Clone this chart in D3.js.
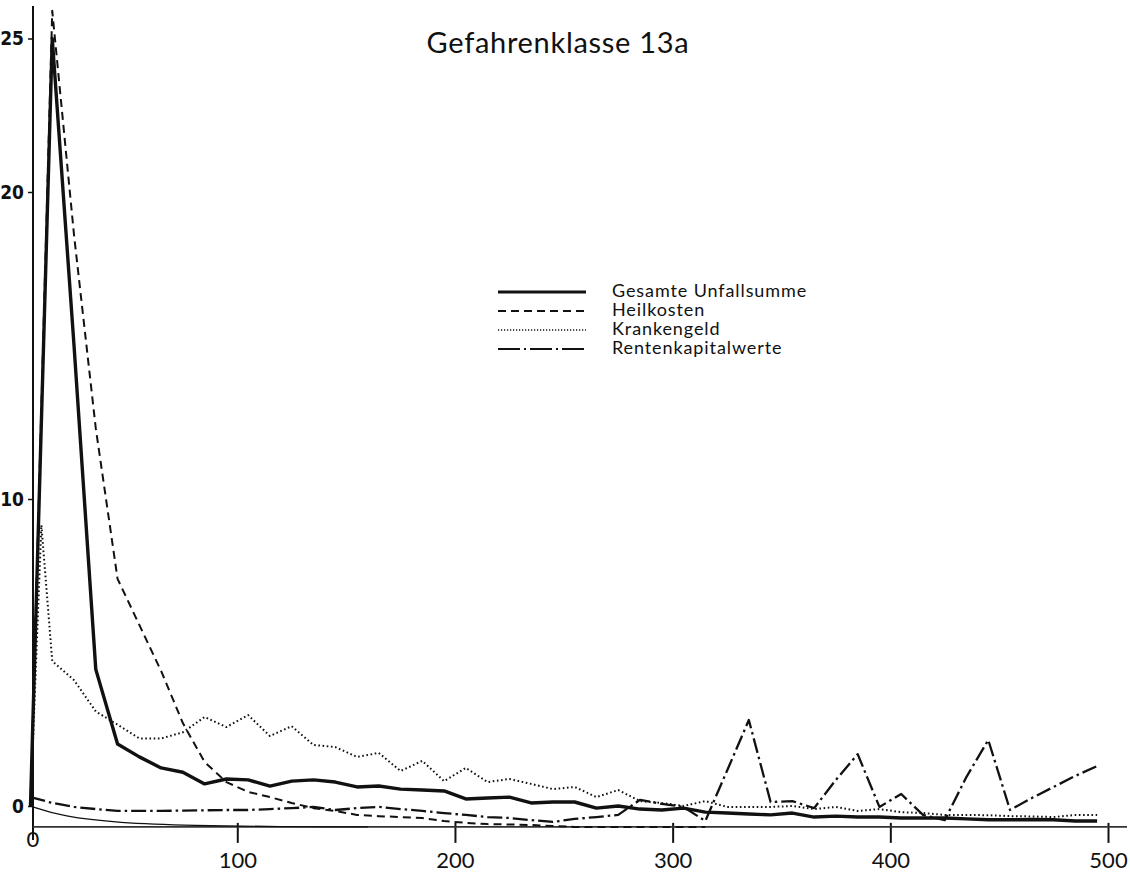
<!DOCTYPE html>
<meta charset="utf-8">
<style>
	body { margin: 0; background: #fff; }
	text { fill: #111; }
	.title { font-family: Lato, "Open Sans", sans-serif; font-size: 29px; letter-spacing: 0.7px; }
	.legend text { font-family: Lato, "Open Sans", sans-serif; font-size: 18px; letter-spacing: 0.9px; }
	.ylab { font-family: "Liberation Sans Narrow", "DejaVu Sans Condensed", sans-serif; font-size: 19px; font-weight: bold; }
	.xlab { font-family: Lato, "Open Sans", sans-serif; font-size: 22px; }
	.line { fill: none; stroke: #111; }
</style>

<svg width="1130" height="875"></svg>
<script src="https://d3js.org/d3.v7.min.js"></script>

<script>
	// class midpoints on the x axis
	var klassen = [5, 15, 25, 35, 45, 55, 65, 75, 85, 95,
	  105, 115, 125, 135, 145, 155, 165, 175, 185, 195,
	  205, 215, 225, 235, 245, 255, 265, 275, 285, 295,
	  305, 315, 325, 335, 345, 355, 365, 375, 385, 395,
	  405, 415, 425, 435, 445, 455, 465, 475, 485, 495];

	var gesamt = [0, 25.0, 15.0, 4.45, 2.02, 1.6, 1.24, 1.1, 0.72, 0.88,
	  0.85, 0.65, 0.81, 0.85, 0.78, 0.62, 0.65, 0.55, 0.52, 0.49,
	  0.23, 0.26, 0.29, 0.1, 0.13, 0.13, -0.07, 0, -0.1, -0.13,
	  -0.07, -0.2, -0.23, -0.26, -0.29, -0.23, -0.36, -0.33, -0.36, -0.36,
	  -0.39, -0.39, -0.39, -0.42, -0.45, -0.45, -0.44, -0.45, -0.49, -0.49];

	// Heilkosten stops at the 315 class
	var heilkosten = [0, 25.9, 18.6, 12.3, 7.4, 5.9, 4.4, 2.7, 1.43, 0.78,
	  0.46, 0.29, 0.1, -0.07, -0.16, -0.29, -0.33, -0.36, -0.39, -0.49,
	  -0.55, -0.59, -0.6, -0.62, -0.65, -0.68, -0.68, -0.68, -0.68, -0.68,
	  -0.68, -0.68];

	var krankengeldX = [5, 10, 15, 25, 35, 45, 55, 65, 75, 85, 95,
	  105, 115, 125, 135, 145, 155, 165, 175, 185, 195,
	  205, 215, 225, 235, 245, 255, 265, 275, 285, 295,
	  305, 315, 325, 335, 345, 355, 365, 375, 385, 395,
	  405, 415, 425, 435, 445, 455, 465, 475, 485, 495];
	var krankengeld = [0, 9.15, 4.72, 4.1, 3.08, 2.65, 2.2, 2.2, 2.4, 2.9, 2.57,
	  2.96, 2.28, 2.6, 1.99, 1.92, 1.6, 1.73, 1.14, 1.47, 0.81,
	  1.24, 0.78, 0.88, 0.72, 0.55, 0.62, 0.29, 0.52, 0.16, 0.1,
	  0, 0.16, -0.03, -0.03, -0.03, 0, -0.1, -0.03, -0.16, -0.1,
	  -0.2, -0.23, -0.29, -0.29, -0.3, -0.33, -0.34, -0.36, -0.29, -0.29];

	var rente = [0.29, 0.1, -0.03, -0.1, -0.16, -0.16, -0.16, -0.15, -0.14, -0.13,
	  -0.13, -0.1, -0.07, -0.03, -0.13, -0.07, -0.03, -0.1, -0.16, -0.23,
	  -0.29, -0.36, -0.39, -0.46, -0.52, -0.42, -0.36, -0.29, 0.2, 0.07,
	  -0.03, -0.49, 1.15, 2.8, 0.13, 0.16, -0.07, 0.85, 1.69, -0.03,
	  0.39, -0.29, -0.46, 0.95, 2.15, -0.13, 0.26, 0.62, 0.98, 1.3];

	var yTicks = [0, 10, 20, 25];
	var xTicks = [100, 200, 300, 400, 500];
	var legendLabels = ["Gesamte Unfallsumme", "Heilkosten", "Krankengeld", "Rentenkapitalwerte"];

	// the drawn x axis sits a bit under the zero of the y axis
	var grundlinie = -0.68;
	// thin curve from the y zero down to the x axis line
	var bogenX = [5, 20, 45, 80, 120, 160];
	var bogenY = [0, -0.35, -0.55, -0.64, -0.68, -0.68];

	var svg = d3.select("svg");

	var x = d3.scaleLinear().domain([0, 500]).range([19.6, 1108]),
	    y = d3.scaleLinear().domain([0, 25]).range([806, 38.5]);

	var axisLeftX = 33;

	var series = [
	  {name: legendLabels[0], xs: klassen, ys: gesamt, width: 3.4, dash: null},
	  {name: legendLabels[1], xs: klassen, ys: heilkosten, width: 2, dash: "8,5"},
	  {name: legendLabels[2], xs: krankengeldX, ys: krankengeld, width: 2, dash: "1.6,2.6"},
	  {name: legendLabels[3], xs: klassen, ys: rente, width: 2.3, dash: "15,4,2.5,4"}
	];

	svg.append("text")
	    .attr("class", "title")
	    .attr("x", 558)
	    .attr("y", 53)
	    .attr("text-anchor", "middle")
	    .text("Gefahrenklasse 13a");

	// y axis
	var yAxis = svg.append("g")
	    .attr("transform", "translate(" + axisLeftX + ",0)")
	    .call(d3.axisLeft(y).tickValues(yTicks).tickSize(5).tickPadding(4));
	yAxis.select(".domain").remove();
	yAxis.selectAll(".tick line").attr("stroke", "#111").attr("stroke-width", 1.5);
	yAxis.selectAll(".tick text").attr("class", "ylab").attr("fill", null);
	yAxis.append("line")
	    .attr("y1", 6).attr("y2", 840)
	    .attr("stroke", "#111").attr("stroke-width", 2);

	// x axis
	var xAxis = svg.append("g")
	    .attr("transform", "translate(0," + y(grundlinie) + ")")
	    .call(d3.axisBottom(x).tickValues(xTicks).tickSize(16).tickPadding(10));
	xAxis.select(".domain").remove();
	xAxis.selectAll(".tick line").attr("y1", -4).attr("stroke", "#111").attr("stroke-width", 2);
	xAxis.selectAll(".tick text").attr("class", "xlab").attr("fill", null);
	xAxis.append("line")
	    .attr("x1", axisLeftX).attr("x2", 1127)
	    .attr("stroke", "#333").attr("stroke-width", 1.6);
	xAxis.append("text")
	    .attr("class", "xlab")
	    .attr("x", axisLeftX)
	    .attr("y", 20)
	    .attr("text-anchor", "middle")
	    .text("0");

	svg.append("path")
	    .datum(bogenX.map(function(d, i) { return [d, bogenY[i]]; }))
	    .attr("class", "line")
	    .attr("stroke-width", 1.3)
	    .attr("d", d3.line()
	      .x(function(d) { return x(d[0]); })
	      .y(function(d) { return y(d[1]); })
	      .curve(d3.curveBasis));

	var line = d3.line()
	    .x(function(d) { return x(d[0]); })
	    .y(function(d) { return y(d[1]); });

	svg.selectAll(".series")
	  .data(series)
	  .enter().append("path")
	    .attr("class", "line series")
	    .attr("stroke-width", function(d) { return d.width; })
	    .attr("stroke-dasharray", function(d) { return d.dash; })
	    .attr("stroke-linejoin", "round")
	    .attr("d", function(d) {
	      return line(d.ys.map(function(v, i) { return [d.xs[i], v]; }));
	    });

	// legend
	var legend = svg.append("g").attr("class", "legend");
	var rows = legend.selectAll("g")
	  .data(series)
	  .enter().append("g")
	    .attr("transform", function(d, i) { return "translate(498," + (292 + i * 19) + ")"; });
	rows.append("line")
	    .attr("class", "line")
	    .attr("x2", 88)
	    .attr("stroke-width", function(d, i) { return i == 0 ? 3 : (i == 2 ? 1.5 : 2); })
	    .attr("stroke-dasharray", function(d, i) {
	      return [null, "8,5", "1.2,1.8", "22,4,2,4"][i];
	    });
	rows.append("text")
	    .attr("x", 114)
	    .attr("y", 5)
	    .text(function(d) { return d.name; });
</script>
